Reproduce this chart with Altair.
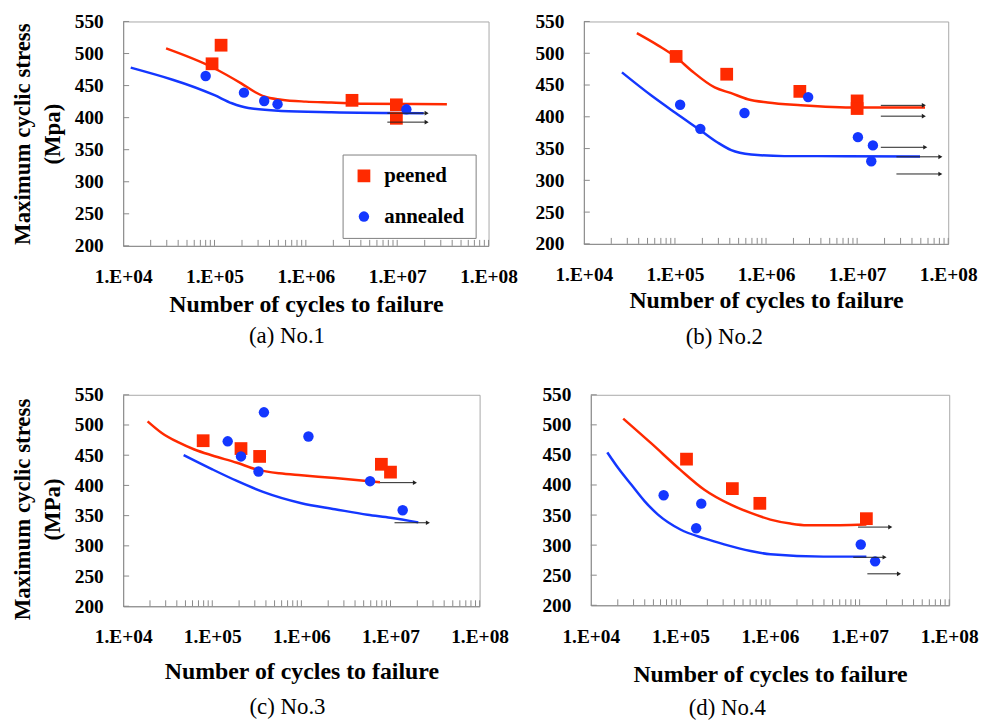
import altair as alt
import pandas as pd

FONT = "Liberation Serif"
RED = "#ff2a00"
BLUE = "#1437ff"
ARROW = "#222222"
AXIS_GRAY = "#8a8a8a"

# ---------------- data ----------------
# (a) No.1
a_peened_x = [9.4e4, 1.18e5, 3.2e6, 9.8e6, 9.8e6]
a_peened_y = [484, 513, 427, 420, 399]
a_annealed_x = [8.0e4, 2.1e5, 3.5e5, 4.9e5, 1.26e7]
a_annealed_y = [465, 439, 426, 421, 413]
a_red_x = [2.95e4, 9.3e4, 1.98e5, 2.77e5, 3.5e5, 5.4e5, 1e6, 1.9e6, 4.4e6, 3.5e7]
a_red_y = [508, 479, 453, 440, 433, 428, 425, 423.5, 421.5, 421]
a_blue_x = [1.21e4, 1e5, 1.55e5, 2.35e5, 5.4e5, 1.9e6, 1.95e7]
a_blue_y = [478, 435, 422.5, 415, 410.5, 408.5, 407]
a_arrow_x1 = [7.8e6, 7.8e6]
a_arrow_x2 = [2.1e7, 2.1e7]
a_arrow_y = [407, 393]

# (b) No.2
b_peened_x = [1.03e5, 3.7e5, 2.35e6, 1.0e7, 1.0e7]
b_peened_y = [495, 467, 440, 425, 413]
b_annealed_x = [1.14e5, 1.9e5, 5.8e5, 2.9e6, 1.02e7, 1.49e7, 1.43e7]
b_annealed_y = [419, 381, 406, 431, 368, 355, 330]
b_red_x = [3.82e4, 6.58e4, 1.03e5, 1.52e5, 2.73e5, 4.15e5, 6.3e5, 1.04e6, 2.41e6, 1e7, 5.56e7]
b_red_y = [531.6, 512, 493.6, 472.5, 446.2, 437.2, 427.7, 422.5, 418.3, 414.6, 414.6]
b_blue_x = [2.62e4, 5.56e4, 1e5, 1.95e5, 2.97e5, 4.15e5, 6.86e5, 1.58e6, 3.66e6, 4.9e7]
b_blue_y = [469.9, 433, 406.7, 377.7, 359.2, 347.6, 340.8, 338.1, 338.1, 337.6]
b_arrow_x1 = [1.82e7, 1.82e7, 1.82e7, 2.7e7, 2.7e7]
b_arrow_x2 = [5.4e7, 5.4e7, 5.6e7, 8.2e7, 8.2e7]
b_arrow_y = [418, 401, 352, 337, 310]

# (c) No.3
c_peened_x = [7.9e4, 2.1e5, 3.4e5, 7.9e6, 1.0e7]
c_peened_y = [474, 461, 448, 435, 422]
c_annealed_x = [1.49e5, 2.1e5, 3.3e5, 3.8e5, 1.2e6, 5.9e6, 1.37e7]
c_annealed_y = [473, 448, 423, 521, 481, 407, 359]
c_red_x = [1.88e4, 2.71e4, 4.13e4, 6.3e4, 1e5, 1.89e5, 3.13e5, 5.66e5, 1e6, 2.38e6, 7.62e6]
c_red_y = [506.1, 486.9, 471.5, 459.5, 449.6, 437.5, 426.6, 420, 416.7, 412.3, 405.2]
c_blue_x = [4.77e4, 1e5, 1.89e5, 3.71e5, 1e6, 2.38e6, 5.52e6, 1e7, 2.05e7]
c_blue_y = [450.2, 426.6, 407.4, 389.3, 370.6, 360.7, 351.4, 346.5, 338.8]
c_arrow_x1 = [7.6e6, 1.11e7]
c_arrow_x2 = [1.88e7, 2.63e7]
c_arrow_y = [404.6, 338.2]

# (d) No.4
d_peened_x = [1.17e5, 3.8e5, 7.7e5, 1.19e7]
d_peened_y = [443, 394, 369.5, 344]
d_annealed_x = [6.5e4, 1.71e5, 1.5e5, 1.03e7, 1.49e7]
d_annealed_y = [383, 369, 328, 301, 273]
d_red_x = [2.3e4, 4.74e4, 1e5, 1.85e5, 3.65e5, 6.08e5, 1.01e6, 1.69e6, 2.58e6, 6.04e6, 1.19e7]
d_red_y = [510.4, 469.1, 425.1, 392.1, 367.3, 353.5, 342.5, 335.9, 333.2, 333.2, 334.3]
d_blue_x = [1.53e4, 2.03e4, 2.84e4, 4.0e4, 5.62e4, 1e5, 1.85e5, 3.08e5, 6.08e5, 1.01e6, 3.95e6, 1.19e7]
d_blue_y = [454.2, 427.8, 400.3, 372.8, 350.8, 326, 311.2, 301.3, 290.3, 284.8, 280.9, 280.9]
d_arrow_x1 = [9.6e6, 8.5e6, 1.22e7]
d_arrow_x2 = [2.2e7, 1.9e7, 2.75e7]
d_arrow_y = [330, 279.8, 252.3]

# axis
x_tick_values = [1e4, 1e5, 1e6, 1e7, 1e8]
x_tick_labels = ["1.E+04", "1.E+05", "1.E+06", "1.E+07", "1.E+08"]
x_minor_ticks = [m * 10 ** e for e in range(4, 8) for m in range(1, 10)][1:] + [1e8]
y_tick_values = [200, 250, 300, 350, 400, 450, 500, 550]
series_names = ["peened", "annealed"]
x_title = "Number of cycles to failure"

label_expr = "{" + ",".join(f"'{int(v)}':'{t}'" for v, t in zip(x_tick_values, x_tick_labels)) + "}[''+datum.value]"


def panel(d, caption, ytitle, w, h, cap_dx, ytitle_pad, xtitle_pad, cap_offset,
          legend=False, ytitle_y=None):
    x_scale = alt.Scale(type="log", domain=[1e4, 1e8], nice=False)
    y_scale = alt.Scale(domain=[200, 550], nice=False)
    x_axis = alt.Axis(
        values=x_tick_values, labelExpr=label_expr, ticks=False, grid=False,
        labelFont=FONT, labelFontSize=19.5, labelFontWeight="bold", labelColor="black",
        labelPadding=22, labelFlush=False, labelOverlap=False,
        title=x_title, titleFont=FONT, titleFontSize=24, titleFontWeight="bold",
        titleColor="black", titlePadding=xtitle_pad, domainColor=AXIS_GRAY,
    )
    extra = {}
    if ytitle_y is not None:
        extra["titleY"] = ytitle_y
    y_axis = alt.Axis(
        values=y_tick_values, ticks=False, grid=False,
        labelFont=FONT, labelFontSize=19.5, labelFontWeight="bold", labelColor="black",
        labelPadding=20, domainColor=AXIS_GRAY,
        title=ytitle if ytitle else "", titleFont=FONT, titleFontSize=23,
        titleFontWeight="bold", titleColor="black", titlePadding=ytitle_pad,
        titleLineHeight=30, **extra,
    )
    X = alt.X("x:Q", scale=x_scale, axis=x_axis)
    Y = alt.Y("y:Q", scale=y_scale, axis=y_axis)

    xt = alt.Chart(pd.DataFrame({"x": x_minor_ticks})).mark_rule(color=AXIS_GRAY).encode(
        x=X, y=alt.value(h), y2=alt.value(h - 6))
    yt = alt.Chart(pd.DataFrame({"y": y_tick_values})).mark_rule(color=AXIS_GRAY).encode(
        y=Y, x=alt.value(0), x2=alt.value(6))

    red = alt.Chart(pd.DataFrame({"x": d["rx"], "y": d["ry"]})).mark_line(
        color=RED, strokeWidth=2.5, interpolate="monotone").encode(x=X, y=Y)
    blue = alt.Chart(pd.DataFrame({"x": d["bx"], "y": d["by"]})).mark_line(
        color=BLUE, strokeWidth=2.5, interpolate="monotone").encode(x=X, y=Y)

    pts = pd.DataFrame({
        "x": d["px"] + d["ax"],
        "y": d["py"] + d["ay"],
        "t": ["peened"] * len(d["px"]) + ["annealed"] * len(d["ax"]),
    })
    if legend:
        lg = alt.Legend(orient="none", legendX=221, legendY=134, title=None,
                        labelFont=FONT, labelFontSize=21, labelFontWeight="bold",
                        labelColor="black", strokeColor="#808080", fillColor="white",
                        padding=11, rowPadding=19, labelOffset=10, symbolStrokeWidth=0)
    else:
        lg = None
    points = alt.Chart(pts).mark_point(filled=True, opacity=1, strokeWidth=0).encode(
        x=X, y=Y,
        color=alt.Color("t:N", scale=alt.Scale(domain=series_names, range=[RED, BLUE]), legend=lg),
        shape=alt.Shape("t:N", scale=alt.Scale(domain=series_names, range=["square", "circle"]), legend=lg),
        size=alt.Size("t:N", scale=alt.Scale(domain=series_names, range=[165, 110]), legend=lg),
    )

    arr = pd.DataFrame({"x": d["x1"], "x2": d["x2"], "y": d["y"]})
    arrows = alt.Chart(arr).mark_rule(color=ARROW, strokeWidth=1).encode(x=X, x2="x2:Q", y=Y)
    heads = alt.Chart(arr).mark_point(shape="triangle-right", filled=True, size=22,
                                      color=ARROW, opacity=1).encode(
        x=alt.X("x2:Q", scale=x_scale, axis=x_axis), y=Y)

    return alt.layer(xt, yt, red, blue, points, arrows, heads).properties(
        width=w, height=h,
        title=alt.TitleParams(text=caption, orient="bottom", anchor="middle", frame="group",
                              dx=cap_dx, font=FONT, fontSize=23, fontWeight="normal",
                              color="black", offset=cap_offset),
    )


A = dict(px=a_peened_x, py=a_peened_y, ax=a_annealed_x, ay=a_annealed_y, rx=a_red_x, ry=a_red_y,
         bx=a_blue_x, by=a_blue_y, x1=a_arrow_x1, x2=a_arrow_x2, y=a_arrow_y)
B = dict(px=b_peened_x, py=b_peened_y, ax=b_annealed_x, ay=b_annealed_y, rx=b_red_x, ry=b_red_y,
         bx=b_blue_x, by=b_blue_y, x1=b_arrow_x1, x2=b_arrow_x2, y=b_arrow_y)
C = dict(px=c_peened_x, py=c_peened_y, ax=c_annealed_x, ay=c_annealed_y, rx=c_red_x, ry=c_red_y,
         bx=c_blue_x, by=c_blue_y, x1=c_arrow_x1, x2=c_arrow_x2, y=c_arrow_y)
D = dict(px=d_peened_x, py=d_peened_y, ax=d_annealed_x, ay=d_annealed_y, rx=d_red_x, ry=d_red_y,
         bx=d_blue_x, by=d_blue_y, x1=d_arrow_x1, x2=d_arrow_x2, y=d_arrow_y)

pa = panel(A, "(a) No.1", ["Maximum cyclic stress", "(Mpa)"], 368, 226, -19, 10, 7, 8, legend=True)
pb = panel(B, "(b) No.2", None, 367, 224, -42, 10, 5, 13)
pc = panel(C, "(c) No.3", ["Maximum cyclic stress", "(MPa)"], 359, 213, -14, 10, 13, 13, ytitle_y=115)
pd_ = panel(D, "(d) No.4", None, 361, 212, -43, 10, 17, 11)

row1 = alt.hconcat(pa, pb, spacing=16).resolve_scale(color="independent", shape="independent", size="independent")
row2 = alt.hconcat(pc, pd_, spacing=32).resolve_scale(color="independent", shape="independent", size="independent")

chart = alt.concat(row1, row2, columns=1, spacing=35, align="none").resolve_scale(
    color="independent", shape="independent", size="independent"
).properties(
    padding={"left": 3, "top": 0, "right": 0, "bottom": 0},
    background="white",
).configure_view(stroke="#a8a8a8", strokeWidth=1)

chart.save("out.html", embed_options={"renderer": "svg", "actions": False})
